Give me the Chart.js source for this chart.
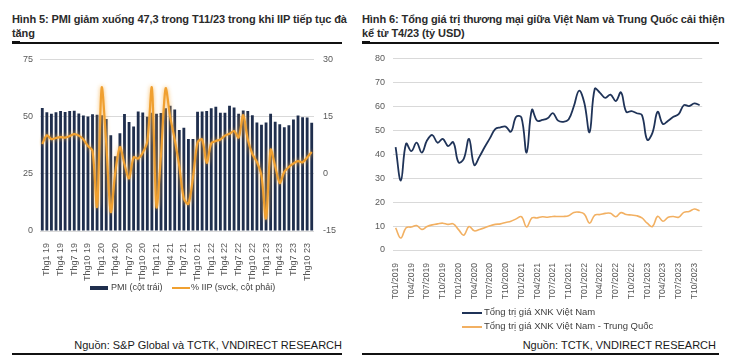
<!DOCTYPE html>
<html>
<head>
<meta charset="utf-8">
<script src="https://cdn.jsdelivr.net/npm/chart.js@4.4.0/dist/chart.umd.min.js"></script>
<style>
  body { margin: 0; background: #fff; font-family: 'Liberation Sans', Arial, sans-serif; }
  #page { position: relative; width: 739px; height: 360px; overflow: hidden; }
  .title { position: absolute; top: 13px; font-weight: bold; font-size: 11px; line-height: 13.5px; color: #2b2b2b; white-space: nowrap; letter-spacing: -0.1px; }
  .rule { position: absolute; background: #111; }
  .src { position: absolute; top: 339px; font-size: 11px; color: #1a1a1a; text-align: right; }
  .leg { position: absolute; font-size: 9px; color: #404040; white-space: nowrap; }
  .sw { position: absolute; }
  canvas { position: absolute; }
</style>
</head>
<body>
<div id="page">
  <div class="title" style="left:12px;">Hình 5: PMI giảm xuống 47,3 trong T11/23 trong khi IIP tiếp tục đà<br>tăng</div>
  <div class="rule" style="left:12px;top:42px;width:330px;height:1.5px;"></div>
  <div class="rule" style="left:12px;top:41px;width:8px;height:3px;"></div>

  <div class="title" style="left:362px;">Hình 6: Tổng giá trị thương mại giữa Việt Nam và Trung Quốc cải thiện<br>kể từ T4/23 (tỷ USD)</div>
  <div class="rule" style="left:362px;top:42px;width:357px;height:1.5px;"></div>
  <div class="rule" style="left:362px;top:41px;width:8px;height:3px;"></div>

  <canvas id="pmiChart" width="345" height="240" style="left:0;top:45px;"></canvas>
  <canvas id="tradeChart" width="353" height="262" style="left:362px;top:45px;"></canvas>

  <div class="sw" style="left:90px;top:286px;width:18px;height:4px;background:#1F2E4D;"></div>
  <div class="leg" style="left:111px;top:282px;">PMI (cột trái)</div>
  <div class="sw" style="left:172px;top:287px;width:18px;height:2px;background:#F0A030;"></div>
  <div class="leg" style="left:191px;top:282px;">% IIP (svck, cột phải)</div>

  <div class="sw" style="left:462px;top:312px;width:20px;height:2px;background:#1F3358;"></div>
  <div class="leg" style="left:484px;top:306px;font-size:9.5px;">Tổng trị giá XNK Việt Nam</div>
  <div class="sw" style="left:462px;top:326px;width:20px;height:2px;background:#F2B062;"></div>
  <div class="leg" style="left:484px;top:320px;font-size:9.5px;">Tổng trị giá XNK Việt Nam - Trung Quốc</div>

  <div class="src" style="left:12px;width:330px;">Nguồn: S&amp;P Global và TCTK, VNDIRECT RESEARCH</div>
  <div class="rule" style="left:12px;top:353px;width:330px;height:1.5px;"></div>
  <div class="src" style="left:362px;width:354px;">Nguồn: TCTK, VNDIRECT RESEARCH</div>
  <div class="rule" style="left:362px;top:353px;width:357px;height:1.5px;"></div>
</div>

<script>
// Hinh 5: PMI (left axis) and IIP yoy % (right axis), Thg12 18 .. Thg11 23
var pmiLabels = [
  'Thg12 18',
  'Thg1 19', 'Thg2 19', 'Thg3 19', 'Thg4 19', 'Thg5 19', 'Thg6 19', 'Thg7 19', 'Thg8 19', 'Thg9 19', 'Thg10 19', 'Thg11 19', 'Thg12 19',
  'Thg1 20', 'Thg2 20', 'Thg3 20', 'Thg4 20', 'Thg5 20', 'Thg6 20', 'Thg7 20', 'Thg8 20', 'Thg9 20', 'Thg10 20', 'Thg11 20', 'Thg12 20',
  'Thg1 21', 'Thg2 21', 'Thg3 21', 'Thg4 21', 'Thg5 21', 'Thg6 21', 'Thg7 21', 'Thg8 21', 'Thg9 21', 'Thg10 21', 'Thg11 21', 'Thg12 21',
  'Thg1 22', 'Thg2 22', 'Thg3 22', 'Thg4 22', 'Thg5 22', 'Thg6 22', 'Thg7 22', 'Thg8 22', 'Thg9 22', 'Thg10 22', 'Thg11 22', 'Thg12 22',
  'Thg1 23', 'Thg2 23', 'Thg3 23', 'Thg4 23', 'Thg5 23', 'Thg6 23', 'Thg7 23', 'Thg8 23', 'Thg9 23', 'Thg10 23', 'Thg11 23'
];
var pmi = [
  53.8,
  51.9, 51.2, 51.9, 52.5, 52.0, 52.5, 52.6, 51.4, 50.5, 50.0, 51.0, 50.8,
  50.6, 49.0, 41.9, 32.7, 42.7, 51.1, 47.6, 45.7, 52.2, 51.8, 49.9, 51.7,
  51.3, 51.6, 53.6, 54.7, 53.1, 44.1, 45.1, 40.2, 40.2, 52.1, 52.2, 52.5,
  53.7, 54.3, 51.7, 51.7, 54.7, 54.0, 51.2, 52.7, 52.5, 50.6, 47.4, 46.4,
  47.4, 51.2, 47.7, 46.7, 45.3, 46.2, 48.7, 50.5, 49.7, 49.6, 47.3
];
var iip = [
  7.8,
  10.1, 9.1, 9.4, 9.6, 9.5, 9.9, 10.4, 10.0, 9.0, 7.3, 6.0, -8.6,
  22.6, 8.0, -10.0, 0.5, 7.0, 2.5, -1.2, 4.3, 4.0, 5.5, 8.5, 22.6,
  -8.7, 5.0, 22.4, 15.0, 9.0, 2.0, -6.5, -7.9, -1.0, 8.2, 9.0, 2.9,
  8.0, 8.6, 9.0, 10.0, 10.5, 11.2, 9.5, 15.4, 9.0, 5.2, 3.1, -0.5,
  -11.7, 6.3, 2.0, -2.4, 0.5, 1.8, 2.7, 3.3, 3.0, 4.3, 5.7
];
var pmiTicks = [0, 25, 50, 75];
var iipTicks = [-15, 0, 15, 30];

// Hinh 6: trade values, ty USD, T01/2019 .. T11/2023
var tradeLabels = [
  'T01/2019', 'T02/2019', 'T03/2019', 'T04/2019', 'T05/2019', 'T06/2019', 'T07/2019', 'T08/2019', 'T09/2019', 'T10/2019', 'T11/2019', 'T12/2019',
  'T01/2020', 'T02/2020', 'T03/2020', 'T04/2020', 'T05/2020', 'T06/2020', 'T07/2020', 'T08/2020', 'T09/2020', 'T10/2020', 'T11/2020', 'T12/2020',
  'T01/2021', 'T02/2021', 'T03/2021', 'T04/2021', 'T05/2021', 'T06/2021', 'T07/2021', 'T08/2021', 'T09/2021', 'T10/2021', 'T11/2021', 'T12/2021',
  'T01/2022', 'T02/2022', 'T03/2022', 'T04/2022', 'T05/2022', 'T06/2022', 'T07/2022', 'T08/2022', 'T09/2022', 'T10/2022', 'T11/2022', 'T12/2022',
  'T01/2023', 'T02/2023', 'T03/2023', 'T04/2023', 'T05/2023', 'T06/2023', 'T07/2023', 'T08/2023', 'T09/2023', 'T10/2023', 'T11/2023'
];
var tradeTotal = [
  43.0, 29.0, 44.4, 41.3, 44.8, 40.7, 45.8, 48.0, 44.8, 46.4, 43.4, 45.0,
  36.6, 38.0, 46.4, 35.5, 39.0, 43.0, 46.7, 50.5, 51.2, 51.5, 49.4, 55.6,
  55.3, 40.7, 58.5, 54.0, 54.3, 55.0, 57.1, 54.0, 53.5, 54.5, 60.0, 66.5,
  61.5, 49.2, 67.3, 65.6, 63.5, 64.9, 62.2, 65.8, 57.7, 58.0, 57.1, 56.3,
  46.0, 48.9, 57.7, 52.6, 54.0, 55.6, 56.7, 60.5, 60.1, 61.2, 60.5
];
var tradeChina = [
  9.2, 5.0, 9.3, 9.6, 10.2, 8.6, 9.8, 10.5, 10.9, 11.2, 10.7, 10.9,
  8.5, 6.2, 9.8, 8.0, 8.6, 9.3, 10.1, 10.7, 10.9, 11.5, 12.0, 13.0,
  13.9, 9.6, 13.4, 13.4, 13.9, 13.7, 14.0, 14.0, 14.0, 14.3, 15.7, 15.8,
  15.0, 11.2, 14.6, 14.8, 15.3, 15.3, 13.9, 15.6, 14.8, 14.6, 14.3, 13.4,
  11.2, 9.8, 14.1, 12.0, 13.7, 14.0, 13.7, 15.7, 16.1, 17.1, 16.4
];

var FONT = "'Liberation Sans', Arial, sans-serif";
var TICK_COLOR = '#595959';
var GRID_COLOR = '#d9d9d9';

var glow = {
  id: 'glow',
  beforeDatasetDraw: function (chart, args) {
    if (chart.canvas.id === 'pmiChart' && args.index === 1) {
      chart.ctx.save();
      chart.ctx.shadowColor = 'rgba(246,178,80,0.9)';
      chart.ctx.shadowBlur = 4;
    }
  },
  afterDatasetDraw: function (chart, args) {
    if (chart.canvas.id === 'pmiChart' && args.index === 1) {
      chart.ctx.restore();
    }
  }
};

function fixedWidth(w) { return function (scale) { scale.width = w; }; }
function fixedHeight(h) { return function (scale) { scale.height = h; }; }

new Chart(document.getElementById('pmiChart'), {
  type: 'bar',
  data: {
    labels: pmiLabels,
    datasets: [
      {
        label: 'PMI (cột trái)',
        data: pmi,
        backgroundColor: '#1F2E4D',
        barPercentage: 0.62,
        categoryPercentage: 1.0,
        yAxisID: 'y',
        order: 2
      },
      {
        type: 'line',
        label: '% IIP (svck, cột phải)',
        data: iip,
        borderColor: '#F0A030',
        borderWidth: 2.2,
        pointRadius: 0,
        tension: 0.3,
        yAxisID: 'y1',
        order: 1
      }
    ]
  },
  options: {
    responsive: false,
    animation: false,
    devicePixelRatio: 1,
    layout: { padding: { top: 9, left: 0, right: 0, bottom: 0 } },
    plugins: { legend: { display: false }, tooltip: { enabled: false } },
    scales: {
      x: {
        grid: { display: false },
        border: { display: false },
        afterFit: fixedHeight(54),
        ticks: {
          autoSkip: false,
          minRotation: 90,
          maxRotation: 90,
          padding: 4,
          color: TICK_COLOR,
          font: { family: FONT, size: 9 },
          callback: function (v, i) { return i % 3 === 1 ? pmiLabels[i] : ''; }
        }
      },
      y: {
        position: 'left',
        min: 0,
        max: 75,
        afterFit: fixedWidth(40),
        afterBuildTicks: function (s) { s.ticks = pmiTicks.map(function (v) { return { value: v }; }); },
        grid: { color: GRID_COLOR, drawTicks: false },
        border: { display: false },
        ticks: { padding: 7, color: TICK_COLOR, font: { family: FONT, size: 9 } }
      },
      y1: {
        position: 'right',
        min: -15,
        max: 30,
        afterFit: fixedWidth(31),
        afterBuildTicks: function (s) { s.ticks = iipTicks.map(function (v) { return { value: v }; }); },
        grid: { drawOnChartArea: false, drawTicks: false },
        border: { display: false },
        ticks: { padding: 9, color: TICK_COLOR, font: { family: FONT, size: 9 } }
      }
    }
  },
  plugins: [glow]
});

new Chart(document.getElementById('tradeChart'), {
  type: 'line',
  data: {
    labels: tradeLabels,
    datasets: [
      {
        label: 'Tổng trị giá XNK Việt Nam',
        data: tradeTotal,
        borderColor: '#1F3358',
        borderWidth: 1.8,
        pointRadius: 0,
        tension: 0.4
      },
      {
        label: 'Tổng trị giá XNK Việt Nam - Trung Quốc',
        data: tradeChina,
        borderColor: '#F2B062',
        borderWidth: 1.6,
        pointRadius: 0,
        tension: 0.4
      }
    ]
  },
  options: {
    responsive: false,
    animation: false,
    devicePixelRatio: 1,
    layout: { padding: { top: 10, left: 0, right: 8, bottom: 0 } },
    plugins: { legend: { display: false }, tooltip: { enabled: false } },
    scales: {
      x: {
        offset: true,
        grid: { display: false },
        border: { display: false },
        afterFit: fixedHeight(57),
        ticks: {
          autoSkip: false,
          minRotation: 90,
          maxRotation: 90,
          padding: 5,
          color: TICK_COLOR,
          font: { family: FONT, size: 8.6 },
          callback: function (v, i) { return i % 3 === 0 ? tradeLabels[i] : ''; }
        }
      },
      y: {
        min: 0,
        max: 80,
        afterFit: fixedWidth(31),
        grid: { color: GRID_COLOR, drawTicks: false },
        border: { display: false },
        ticks: { stepSize: 10, padding: 8, color: TICK_COLOR, font: { family: FONT, size: 9 } }
      }
    }
  }
});
</script>
</body>
</html>
